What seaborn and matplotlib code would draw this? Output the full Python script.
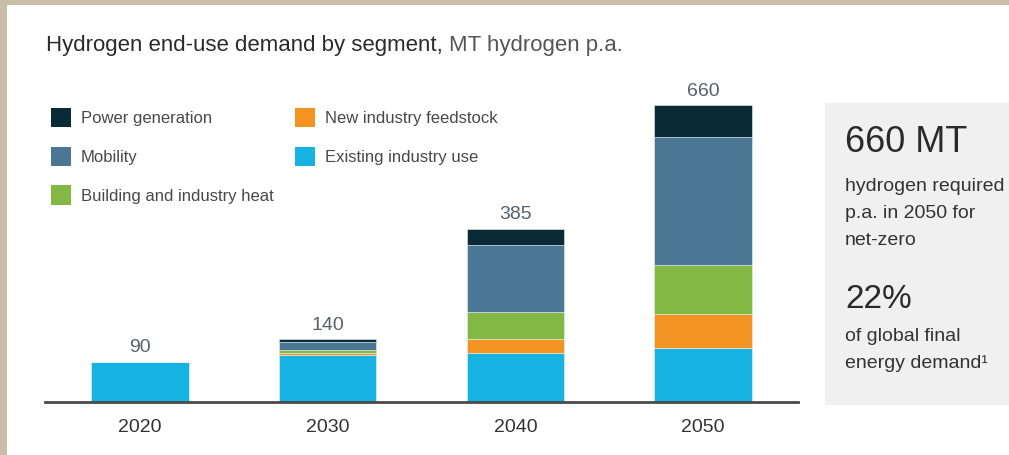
import numpy as np
import pandas as pd
import matplotlib.pyplot as plt
from matplotlib.patches import Rectangle, Patch
import seaborn as sns


YEARS = ["2020", "2030", "2040", "2050"]
TOTALS = [90, 140, 385, 660]

# segments, bottom of the stack first
SEGMENTS = ["Existing industry use", "New industry feedstock",
            "Building and industry heat", "Mobility", "Power generation"]
EXISTING = [90, 105, 110, 120]
NEW_FEEDSTOCK = [0, 5, 30, 75]
HEAT = [0, 5, 60, 110]
MOBILITY = [0, 18, 150, 285]
POWER = [0, 7, 35, 70]

COLORS = {
    "Power generation": "#0A2B35",
    "Mobility": "#4A7794",
    "Building and industry heat": "#84B845",
    "New industry feedstock": "#F39322",
    "Existing industry use": "#16B3E2",
}

PANEL_HEAD_1 = "660 MT"
PANEL_BODY_1 = ["hydrogen required", "p.a. in 2050 for", "net-zero"]
PANEL_HEAD_2 = "22%"
PANEL_BODY_2 = ["of global final", "energy demand\u00b9"]

sns.set_theme(style="white")
plt.rcParams["font.family"] = ["Liberation Sans", "DejaVu Sans"]

W, H = 1009, 455
fig = plt.figure(figsize=(W / 100, H / 100), dpi=100, facecolor="#C9BCA8")


def fx(px):
    return px / W


def fy(py):
    return 1 - py / H


# white card inside the beige frame, grey side panel (kept under the axes)
fig.patches.append(Rectangle((fx(7), 0), 1, fy(5), transform=fig.transFigure,
                             facecolor="white", edgecolor="none", zorder=-2))
fig.patches.append(Rectangle((fx(825), fy(405)), fx(W - 825), (405 - 103) / H,
                             transform=fig.transFigure, facecolor="#F0F0F0",
                             edgecolor="none", zorder=-1))

ax = fig.add_axes([fx(45), fy(402), fx(798 - 45), (402 - 87) / H])
ax.set_facecolor("none")

values = {
    "Existing industry use": EXISTING,
    "New industry feedstock": NEW_FEEDSTOCK,
    "Building and industry heat": HEAT,
    "Mobility": MOBILITY,
    "Power generation": POWER,
}
df = pd.DataFrame([
    {"year": y, "segment": s, "value": values[s][i]}
    for s in SEGMENTS for i, y in enumerate(YEARS)
])

bottom = np.zeros(len(YEARS))
for seg in SEGMENTS:
    sub = df[df["segment"] == seg]
    sns.barplot(data=sub, x="year", y="value", order=YEARS, color=COLORS[seg],
                width=0.52, bottom=bottom, edgecolor="#E8F0F4", linewidth=0.4,
                saturation=1, ax=ax, errorbar=None)
    bottom = bottom + sub["value"].to_numpy()

for i, tot in enumerate(TOTALS):
    ax.text(i, tot + 12, str(tot), ha="center", va="bottom",
            fontsize=14, color="#56626C")

ax.set_xlim(-0.505, 3.505)
ax.set_ylim(0, 700)
ax.set_xlabel("")
ax.set_ylabel("")
ax.set_yticks([])
for side in ["left", "right", "top"]:
    ax.spines[side].set_visible(False)
ax.spines["bottom"].set_color("#4A4A4A")
ax.spines["bottom"].set_linewidth(2)
ax.tick_params(axis="x", length=0, pad=12, labelsize=14, labelcolor="#333333")

# legend
handles = [Patch(facecolor=COLORS[s], edgecolor="none") for s in SEGMENTS[::-1]]
fig.legend(handles, SEGMENTS[::-1], loc="upper left",
           bbox_to_anchor=(fx(51), fy(108)), ncol=2, frameon=False,
           fontsize=12, handlelength=1.2, handleheight=1.4, handletextpad=0.6,
           labelspacing=1.17, columnspacing=1.3, borderpad=0, borderaxespad=0,
           labelcolor="#484848")

# title in two shades of grey
t1 = fig.text(fx(46), fy(51), "Hydrogen end-use demand by segment,",
              fontsize=16, color="#2B2B2B", va="baseline")
fig.canvas.draw()
bb = t1.get_window_extent()
fig.text(fx(bb.x1 + 6), fy(51), "MT hydrogen p.a.", fontsize=16,
         color="#555555", va="baseline")

# side panel text
fig.text(fx(845), fy(152), PANEL_HEAD_1, fontsize=26, color="#2A2A2A",
         va="baseline")
for k, line in enumerate(PANEL_BODY_1):
    fig.text(fx(845), fy(191 + k * 27), line, fontsize=14, color="#333333",
             va="baseline")
fig.text(fx(845), fy(308), PANEL_HEAD_2, fontsize=24, color="#2A2A2A",
         va="baseline")
for k, line in enumerate(PANEL_BODY_2):
    fig.text(fx(845), fy(341 + k * 27), line, fontsize=14, color="#333333",
             va="baseline")

fig.savefig("out.png", dpi=100, facecolor=fig.get_facecolor())
